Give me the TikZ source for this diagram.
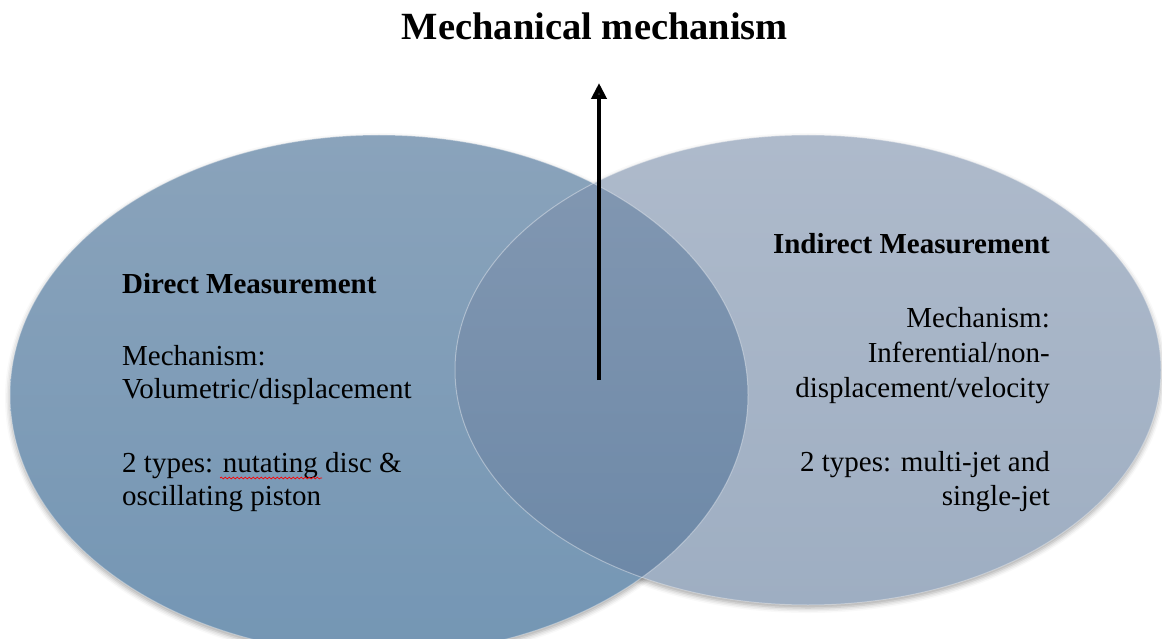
\documentclass[tikz,border=0pt]{standalone}
\usepackage{fontspec}
\setmainfont{Liberation Serif}
\usetikzlibrary{arrows.meta,shadows.blur,decorations.pathmorphing}
\definecolor{Ltop}{RGB}{138,163,187}
\definecolor{Lbot}{RGB}{116,150,180}
\definecolor{Rtop}{RGB}{174,186,203}
\definecolor{Rbot}{RGB}{158,174,194}
\definecolor{Otop}{RGB}{131,152,178}
\definecolor{Obot}{RGB}{108,136,167}
\tikzset{
  bodytext/.style={inner sep=0pt, font=\fontsize{29}{33}\selectfont, text=black},
  headtext/.style={bodytext, font=\fontsize{29}{33}\selectfont\bfseries},
  titletext/.style={inner sep=0pt, font=\fontsize{38.5}{42}\selectfont\bfseries},
  arrowline/.style={line width=4pt, -{Triangle[width=15pt,length=16pt]}},
  softshadow/.style={blur shadow={shadow xshift=0pt, shadow yshift=-3pt, shadow blur radius=5pt, shadow opacity=35}},
  rimline/.style={draw=white, draw opacity=0.35, line width=1pt},
  spellmark/.style={draw=red, line width=0.7pt, decorate, decoration={snake, amplitude=0.9pt, segment length=4pt}}
}
\begin{document}
\begin{tikzpicture}[x=1pt, y=-1pt]
\useasboundingbox (0,0) rectangle (1162,639);
% shadows
\path[softshadow] (379,395) ellipse [x radius=369, y radius=260];
\path[softshadow] (808,370) ellipse [x radius=353, y radius=235];
% left ellipse
\shade[top color=Ltop, bottom color=Lbot] (379,395) ellipse [x radius=369, y radius=260];
% right ellipse
\shade[top color=Rtop, bottom color=Rbot] (808,370) ellipse [x radius=353, y radius=235];
% overlap
\begin{scope}
  \clip (379,395) ellipse [x radius=369, y radius=260];
  \shade[top color=Otop, bottom color=Obot] (808,370) ellipse [x radius=353, y radius=235];
\end{scope}
% rims
\path[rimline] (379,395) ellipse [x radius=369, y radius=260];
\path[rimline] (808,370) ellipse [x radius=353, y radius=235];

% title and arrow
\node[titletext, anchor=base] (title) at (595,40) {Mechanical mechanism};
\coordinate (arrowfoot) at (599,380);
\coordinate (arrowtip) at (599,83);
\draw[arrowline] (arrowfoot) -- (arrowtip);

% left text
\node[headtext, anchor=base west] (dhead) at (122,293) {Direct Measurement};
\node[bodytext, anchor=base west] (dmech1) at (122,365) {Mechanism:};
\node[bodytext, anchor=base west] (dmech2) at (122,398) {Volumetric/displacement};
\node[bodytext, anchor=base west] (dtype1) at (122,472) {2 types: nutating disc \&};
\node[bodytext, anchor=base west] (dtype2) at (122,505) {oscillating piston};
\coordinate (spellA) at (220,478);
\coordinate (spellB) at (322,478);
\path[spellmark] (spellA) -- (spellB);

% right text
\node[headtext, anchor=base east] (ihead) at (1050,254) {Indirect Measurement};
\node[bodytext, anchor=base east] (imech1) at (1050,327) {Mechanism:};
\node[bodytext, anchor=base east] (imech2) at (1050,362) {Inferential/non-};
\node[bodytext, anchor=base east] (imech3) at (1050,397) {displacement/velocity};
\node[bodytext, anchor=base east] (itype1) at (1050,471) {2 types: multi-jet and};
\node[bodytext, anchor=base east] (itype2) at (1050,505) {single-jet};
\end{tikzpicture}
\end{document}
